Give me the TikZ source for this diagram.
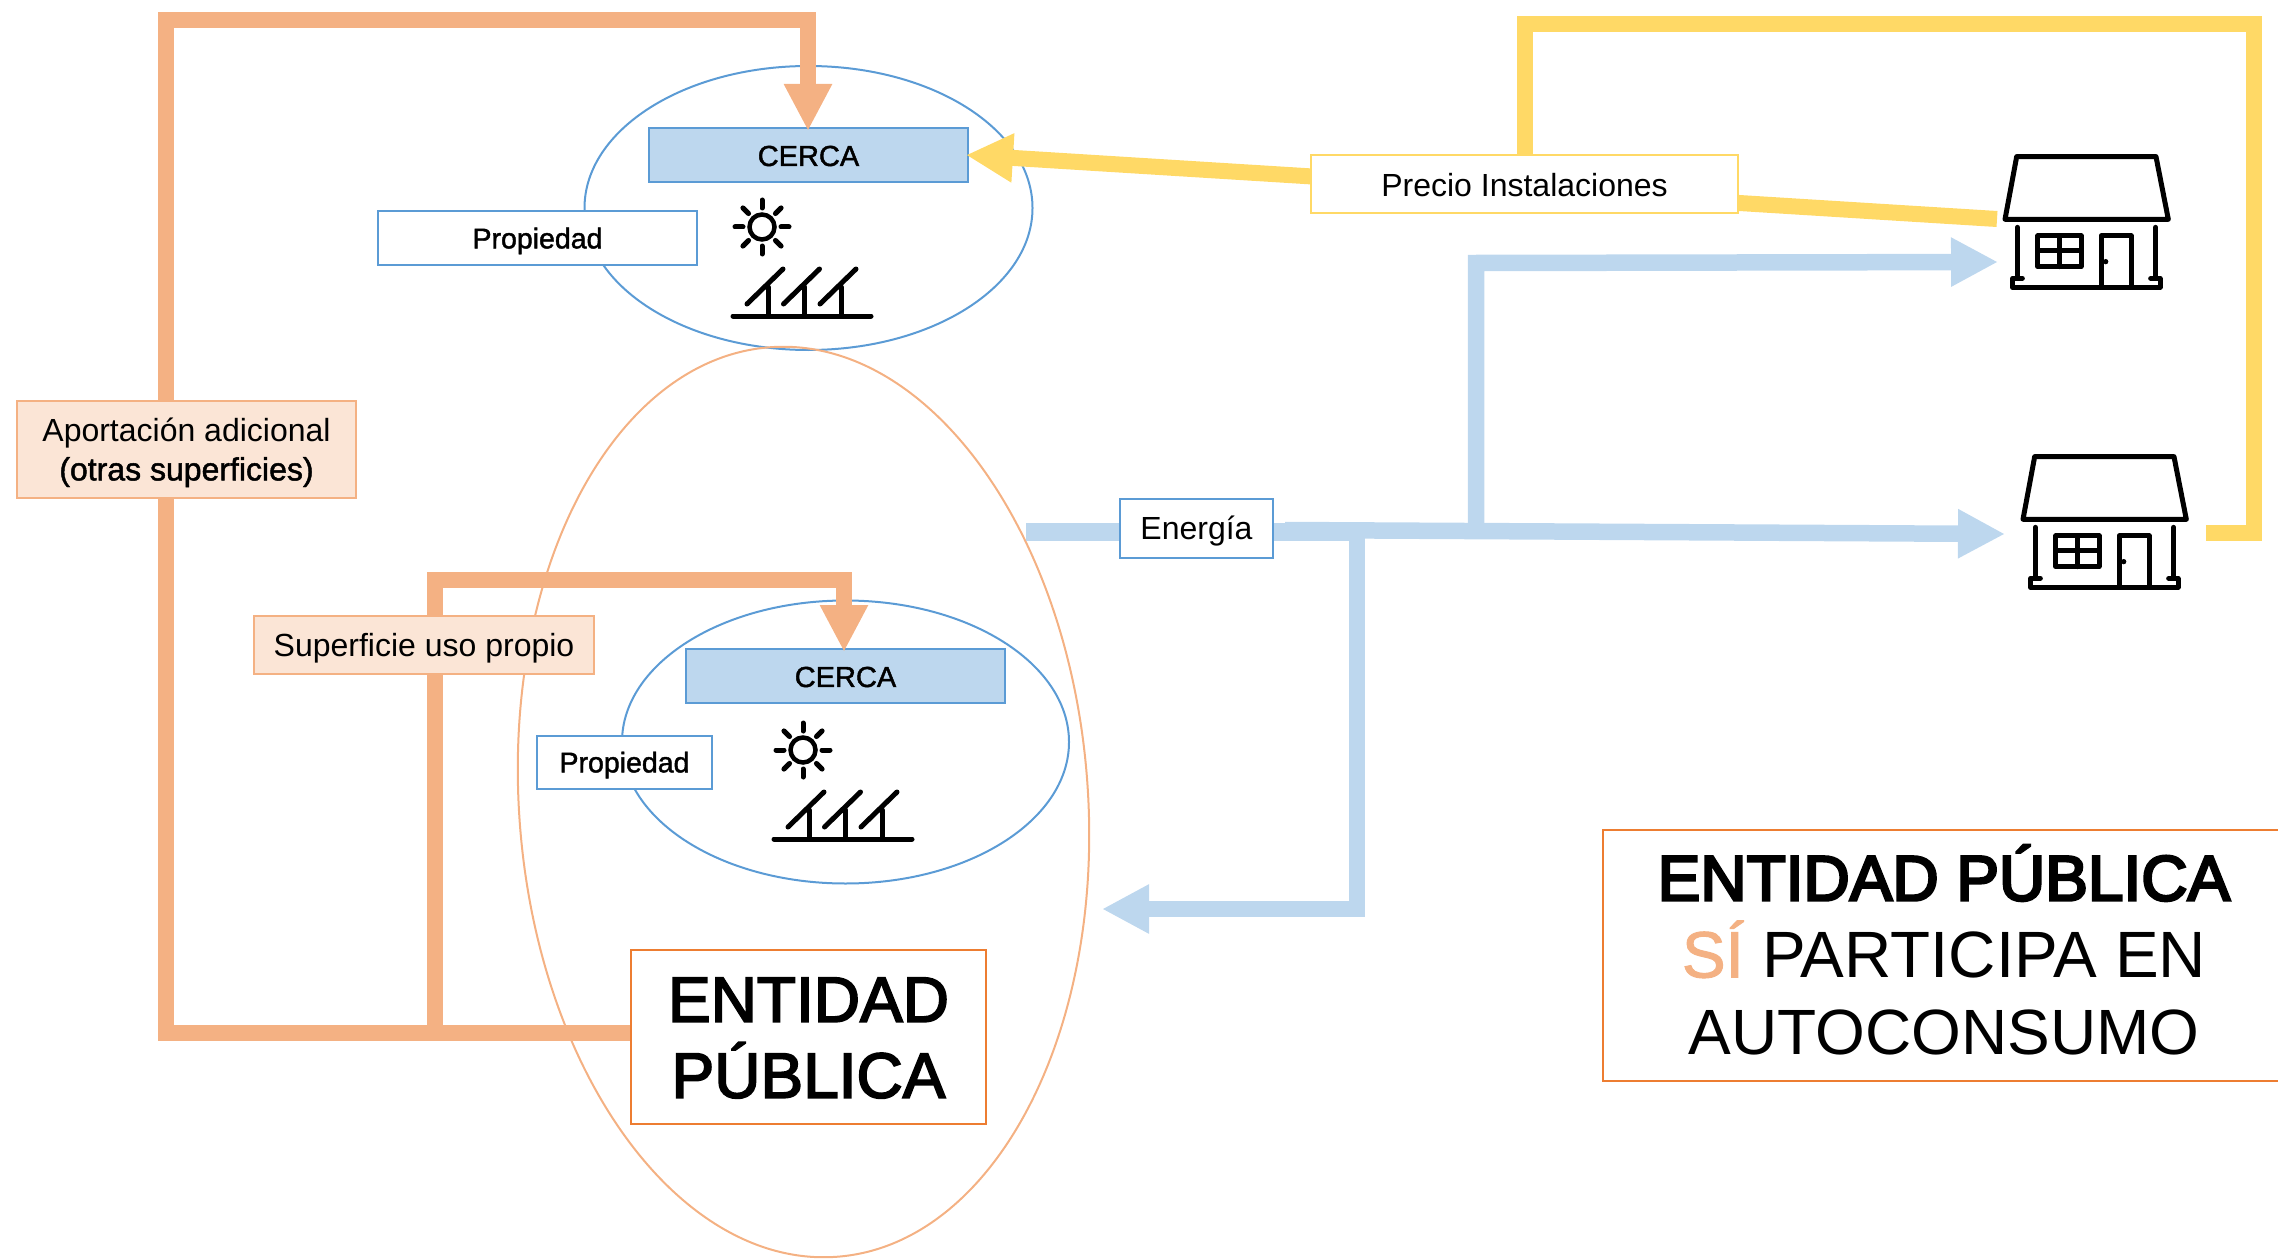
\documentclass[tikz,border=0pt]{standalone}
\usepackage{fontspec}
\setmainfont{Liberation Sans}
\newfontfamily\semib[FakeBold=1.5]{Liberation Sans}
\newfontfamily\medb[FakeBold=2.8]{Liberation Sans}
\newfontfamily\heavyb[FakeBold=4]{Liberation Sans}
\usetikzlibrary{shapes.geometric,arrows.meta}
\definecolor{orl}{HTML}{F4B183}
\definecolor{orf}{HTML}{FBE5D6}
\definecolor{ord}{HTML}{ED7D31}
\definecolor{blu}{HTML}{5B9BD5}
\definecolor{bll}{HTML}{BDD7EE}
\definecolor{yel}{HTML}{FFD966}
\newcommand{\fs}[1]{\fontsize{#1}{#1}\selectfont}
\newcommand{\dn}[2]{\raisebox{-#1pt}[\height][\depth]{#2}}
\tikzset{
 x=1pt,y=-1pt,
 ell/.style={draw,ellipse,line width=2pt,inner sep=0,fill=none},
 cercabox/.style={draw=blu,fill=bll,line width=2pt,inner sep=0,minimum width=319pt,minimum height=54pt,font=\fs{29}\semib},
 propbox/.style={draw=blu,fill=white,line width=2pt,inner sep=0,minimum height=53pt,font=\fs{28.5}\semib},
 orlabel/.style={draw=orl,fill=orf,line width=2pt,inner sep=0,font=\fs{32}},
 orflow/.style={draw=orl,line width=16pt},
 blflow/.style={draw=bll,line width=16.5pt},
 yeflow/.style={draw=yel,line width=16pt},
 orhead/.style={-{Triangle[length=47pt,width=45pt]}},
 ico/.style={line width=5pt,line cap=round,line join=round,black},
 pics/sunpanel/.style={code={
   \draw[line width=4.5pt,line cap=round] (0,0) circle (12.5);
   \foreach \a in {0,45,...,315}{\draw[line width=5pt,line cap=round] (\a:19) -- (\a:27);}
   \draw[ico] (-29,89) -- (109,89);
   \foreach \d in {0,36.5,73}{
     \draw[ico] (\d-15,77) -- (\d+21,42);
     \draw[ico] (\d+6,60) -- (\d+6,89);
   }
 }},
 pics/housepic/.style={code={
  \begin{scope}[xscale=0.3333,yscale=0.3333]
   \draw[ico] (170,80) -- (588,80) -- (625,268) -- (135,268) -- cycle;
   \draw[ico] (172,292) -- (172,440);
   \draw[ico] (587,292) -- (587,440);
   \draw[ico] (187,445) -- (158,445) -- (158,472) -- (600,472) -- (600,445) -- (572,445);
   \draw[ico] (233,318) rectangle (363,410);
   \draw[ico] (298,318) -- (298,410) (233,363) -- (363,363);
   \draw[ico] (423,472) -- (423,318) -- (513,318) -- (513,472);
   \fill (437,395) circle (8);
  \end{scope}
 }}
}
\begin{document}
\begin{tikzpicture}
\useasboundingbox (0,0) rectangle (2278,1260);
% ellipses
\node[ell,draw=blu,minimum width=448pt,minimum height=284pt] (topell) at (808.5,208) {};
\node[ell,draw=blu,minimum width=447pt,minimum height=283pt] (lowell) at (845.5,742) {};
\node[ell,draw=orl,minimum width=569pt,minimum height=912pt,rotate=4.2] (bigell) at (803.5,802) {};
% boxes used by connectors
\node[cercabox] (cerca1) at (808.5,155) {\dn{1}{CERCA}};
\node[cercabox] (cerca2) at (845.5,676) {\dn{1}{CERCA}};
\node[draw=ord,fill=white,line width=2pt,inner sep=0,minimum width=355pt,minimum height=174pt] (entidad) at (808.5,1037) {};
\coordinate (h1a) at (1997,219);
\coordinate (h1b) at (1998,262);
\coordinate (h2a) at (2005,534);
\coordinate (yend) at (2206,533);
\coordinate (eL) at (1026,532);
\coordinate (eIn) at (1102,909);
\coordinate (j1) at (166,1033);
\coordinate (c1in) at (808,131);
\coordinate (c2in) at (844,652);
\coordinate (c1side) at (966,155);
% orange flows
\draw[orflow,orhead] (entidad.west |- j1) -- (j1) -- (166,20) -- (808,20) -- (c1in);
\draw[orflow,orhead] (434.5,1033) -- (434.5,580) -- (844,580) -- (c2in);
% yellow flows
\draw[yeflow] (yend) -- (2254,533) -- (2254,24) -- (1525,24) -- (1525,190);
\draw[yeflow,-{Triangle[length=47pt,width=46pt]}] (h1a) -- (c1side);
% blue flows
\draw[draw=bll,line width=18pt] (eL) -- (1140,532);
\draw[draw=bll,line width=18pt] (1265,532) -- (1350,532);
\draw[blflow,-{Triangle[length=47pt,width=46pt]}] (1285,530) -- (h2a);
\draw[blflow,-{Triangle[length=47pt,width=46pt]}] (1476,530) -- (1476,263) -- (h1b);
\draw[blflow,-{Triangle[length=47pt,width=46pt]}] (1357,530) -- (1357,909) -- (eIn);
% entity box on top of the lines
\node[draw=ord,fill=white,line width=2pt,inner sep=0,minimum width=355pt,minimum height=174pt] (entidadtop) at (808.5,1037) {};
\node[font=\fs{64}\medb,align=center] (entidadtxt) at (808.5,1038) {ENTIDAD\\[12pt]PÚBLICA};
% labels
\node[propbox,minimum width=319pt] (prop1) at (537.5,238) {\dn{3}{Propiedad}};
\node[propbox,minimum width=175pt] (prop2) at (624.5,762) {\dn{3}{Propiedad}};
\node[orlabel,minimum width=339pt,minimum height=97pt] (aport) at (186.5,449.5) {\dn{4.5}{\begin{tabular}{@{}c@{}}Aportación adicional\\[6pt]{\semib (otras superficies)}\end{tabular}}};
\node[orlabel,minimum width=340pt,minimum height=58pt] (sup) at (424,644.5) {\dn{4}{Superficie uso propio}};
\node[draw=yel,fill=white,line width=2pt,inner sep=0,minimum width=427pt,minimum height=58pt,font=\fs{32}] (precio) at (1524.5,184) {\dn{1.5}{Precio Instalaciones}};
\node[draw=blu,fill=white,line width=2pt,inner sep=0,minimum width=153pt,minimum height=59pt,font=\fs{32}] (energia) at (1196.5,528) {\dn{3}{Energía}};
% icons
\pic at (762,227) {sunpanel};
\pic at (803,750) {sunpanel};
\pic at (1960,130) {housepic};
\pic at (1978,430) {housepic};
% legend
\node[draw=ord,fill=white,line width=2pt,inner sep=0,minimum width=682pt,minimum height=251pt] (legend) at (1944,955.5) {};
\node[font=\fs{64},align=center] (legendtxt) at (1944,950) {{\heavyb ENTIDAD PÚBLICA}\\[13pt]{\fs{65.5}{\color{orl}\semib SÍ} PARTICIPA EN}\\[13pt]AUTOCONSUMO};
\end{tikzpicture}
\end{document}
